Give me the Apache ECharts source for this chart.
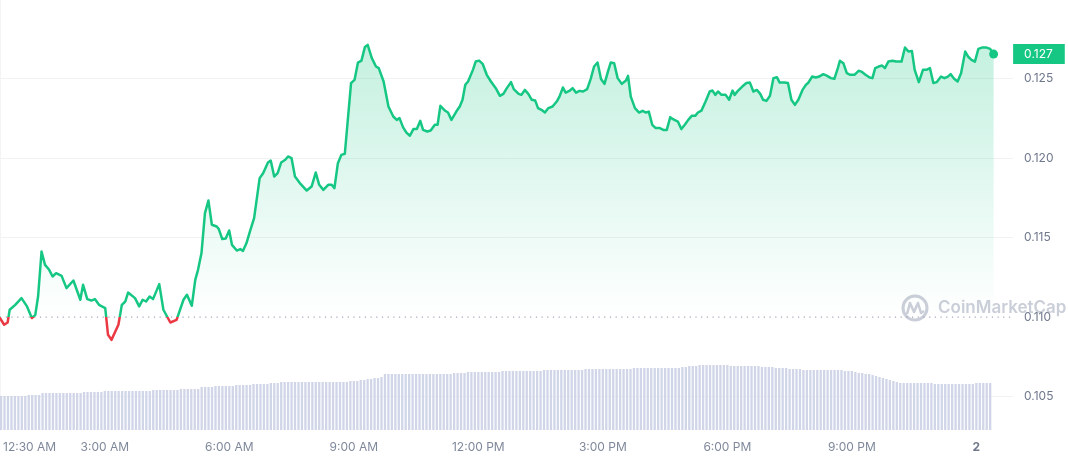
<!DOCTYPE html>
<html><head><meta charset="utf-8">
<script src="https://cdn.jsdelivr.net/npm/echarts@6/dist/echarts.min.js"></script>
<style>html,body{margin:0;padding:0;background:#fff}#c{width:1068px;height:460px}</style>
</head><body><div id="c"></div>
<script>
// minutes counted from 12:30 AM
const axisSpanMinutes = 1463;

const priceMinutes = [
0,6,11,14,22,31,39,46,51,55,60,65,71,76,81,89,91,96,106,116,120,126,132,137,143,152,156,161,171,176,181,185,195,201,206,211,216,221,230,236,246,255,265,270,277,282,
286,291,296,301,306,313,316,321,326,331,335,342,347,351,356,361,367,375,380,387,391,396,401,406,412,416,421,426,433,443,450,456,461,467,474,479,483,488,493,498,507,512,517,522,527,531,537,543,547,554,561,
563,568,573,577,582,587,592,597,602,607,611,617,622,628,632,636,643,647,652,659,664,668,672,676,683,687,692,697,703,709,716,722,727,732,738,742,749,753,758,763,768,773,777,782,787,792,798,804,808,813,817,823,827,832,837,842,848,853,858,
863,868,873,878,882,887,892,898,904,907,911,917,923,928,933,937,942,947,953,958,963,968,972,979,984,989,994,999,1004,1008,1013,1019,1025,1029,1033,1037,1042,1048,1053,1058,1061,1066,1072,1078,1083,1088,1093,1098,1102,1107,1112,1117,1122,1126,1133,1138,1143,1148,
1153,1159,1164,1167,1173,1178,1183,1189,1194,1200,1205,1210,1213,1218,1223,1228,1234,1240,1244,1250,1256,1260,1264,1269,1274,1278,1283,1289,1294,1302,1307,1312,1317,1321,1327,1333,1338,1343,1348,1353,1359,1364,1369,1373,1378,1383,1388,1394,1398,1403,1408,1413,1418,1425,1430,1435
];
const priceValues = [
0.10994,0.10952,0.10966,0.11046,0.11077,0.11119,0.11067,0.10994,0.11014,0.11129,0.11412,0.11328,0.11297,0.11255,0.11276,0.11259,0.11251,0.11182,0.1123,0.11109,0.11203,0.11113,0.11104,0.11113,0.11077,0.11057,0.10889,0.10857,0.10952,0.11077,0.11098,0.11154,0.11119,0.11067,0.11109,0.11098,0.11129,0.11113,0.11207,0.11046,0.10966,0.10983,0.11109,0.1114,0.11071,0.11234,
0.11297,0.11402,0.11653,0.11732,0.1158,0.11569,0.11553,0.1149,0.11494,0.11544,0.11454,0.11418,0.11427,0.11416,0.11465,0.11538,0.11622,0.11873,0.11904,0.11971,0.11983,0.11883,0.11904,0.11971,0.11988,0.12009,0.11999,0.11883,0.11842,0.11795,0.1182,0.11908,0.11831,0.11799,0.11831,0.11831,0.1181,0.11967,0.12019,0.12026,0.1247,0.1249,0.12599,0.12611,0.12696,0.1271,0.12627,0.12574,0.12564,0.1248,0.12323,
0.12313,0.1226,0.12239,0.1225,0.12193,0.12159,0.12139,0.12181,0.12181,0.12233,0.12176,0.12166,0.12172,0.12208,0.12208,0.12327,0.12296,0.12285,0.12239,0.12291,0.12323,0.12365,0.12459,0.1248,0.12553,0.12605,0.12611,0.12591,0.12522,0.1248,0.12438,0.1239,0.12402,0.12438,0.12476,0.12432,0.12402,0.12396,0.12427,0.12402,0.12365,0.1236,0.12313,0.12302,0.12285,0.12313,0.12323,0.12354,0.12385,0.12442,0.1241,0.12423,0.12438,0.1241,0.12421,0.12417,0.12432,0.12495,0.12574,
0.12599,0.12495,0.12465,0.12542,0.12599,0.12595,0.12501,0.12465,0.12486,0.12515,0.12385,0.12313,0.12285,0.12296,0.12285,0.12291,0.12208,0.12187,0.12187,0.12176,0.12176,0.12256,0.12243,0.12228,0.12181,0.12208,0.12239,0.12264,0.12264,0.12285,0.12297,0.12354,0.12417,0.12423,0.12396,0.12417,0.12396,0.12396,0.12365,0.12423,0.12396,0.12423,0.12448,0.1247,0.12473,0.12417,0.12427,0.12402,0.12365,0.12358,0.1239,0.12501,0.12507,0.12473,0.12473,0.1247,0.12365,0.12333,
0.12365,0.12427,0.12459,0.1247,0.12511,0.12505,0.12511,0.12526,0.12517,0.12501,0.12497,0.12564,0.1261,0.12595,0.12532,0.12522,0.12522,0.12547,0.12542,0.12522,0.12505,0.12501,0.12564,0.12574,0.1258,0.12564,0.12605,0.1261,0.12605,0.12605,0.12693,0.12668,0.12672,0.12553,0.12476,0.12553,0.12553,0.12564,0.1247,0.12476,0.12511,0.12501,0.12511,0.12526,0.12497,0.1248,0.12532,0.12668,0.12637,0.12616,0.12605,0.12685,0.12693,0.12693,0.12685,0.12652
];
const volumeStepMinutes = 5;
const volumeValues = [
34,34,34,34,34,34,34,34,35,35,35,35,
37,37,37,37,37,37,37,37,37,37,37,37,
38,38,38,38,38,38,39,39,39,39,39,39,39,39,39,39,39,39,39,39,40,40,40,
40,40,40,40,40,41,41,41,41,41,41,
43,43,43,43,44,44,44,44,44,44,
45,45,45,45,45,46,46,46,46,46,47,47,47,
48,48,48,48,48,48,48,48,48,48,48,48,48,48,48,48,48,48,48,48,
49,49,49,50,50,51,51,52,52,53,
56,56,56,56,56,56,56,56,56,56,56,56,56,56,56,56,56,56,56,56,57,57,57,57,
58,58,58,58,58,58,58,58,58,58,
59,59,59,59,59,59,59,59,59,59,59,59,60,60,60,60,60,60,60,60,60,60,60,60,
61,61,61,61,61,61,61,61,61,61,61,61,61,61,62,62,62,62,62,62,62,62,62,62,62,62,62,62,
63,63,64,64,64,65,65,65,65,65,65,65,65,65,64,64,64,64,64,64,64,64,64,
63,63,63,63,62,62,62,62,61,61,61,61,
60,60,60,60,60,60,60,60,60,60,60,60,59,59,59,
58,57,57,56,56,55,54,53,
52,51,50,49,48,
47,47,47,47,47,47,47,47,47,47,46,46,46,46,46,46,46,46,46,46,46,
46,47,47,47,47,47
];
const xTickMinutes = [0,150,330,510,690,870,1050,1230,1410];
const xTickLabels = ['12:30 AM','3:00 AM','6:00 AM','9:00 AM','12:00 PM','3:00 PM','6:00 PM','9:00 PM','2'];
const yTickValues = [0.105,0.110,0.115,0.120,0.125];
const openPrice = 0.110;
const yMin = 0.102908, yMax = 0.129918;

const GREEN = '#16c784', RED = '#ea3943';
const FONT = 'Inter, "Noto Sans", sans-serif';

const priceData = priceMinutes.map((m, i) => [m, priceValues[i]]);
const volumeData = volumeValues.map((v, i) => [i * volumeStepMinutes, v]);
const last = priceData[priceData.length - 1];
const openLine = [[0, openPrice], [axisSpanMinutes, openPrice]];

const chart = echarts.init(document.getElementById('c'), null, {renderer: 'canvas'});
chart.setOption({
  animation: false,
  backgroundColor: '#ffffff',
  textStyle: {fontFamily: FONT},
  grid: [
    {left: 0, right: 55, top: 0, bottom: 30},
    {left: 0, right: 55, top: 330, bottom: 30}
  ],
  xAxis: [
    {type: 'value', gridIndex: 0, min: 0, max: axisSpanMinutes, show: false},
    {type: 'value', gridIndex: 1, min: 0, max: axisSpanMinutes, interval: 30,
     axisLine: {show: false}, axisTick: {show: false}, splitLine: {show: false},
     axisLabel: {
       showMinLabel: true, showMaxLabel: false, hideOverlap: false,
       margin: 11, fontSize: 12, color: '#7f889b', fontFamily: FONT,
       formatter: function (v) {
         const i = xTickMinutes.indexOf(Math.round(v));
         if (i < 0) return '';
         if (i === 0) return '{first|' + xTickLabels[i] + '}';
         if (xTickLabels[i] === '2') return '{day|2}';
         return xTickLabels[i];
       },
       rich: {
         first: {padding: [0, 0, 0, 57], fontSize: 12, color: '#7f889b', fontFamily: FONT},
         day: {fontWeight: 'bold', fontSize: 12, color: '#6f788c', fontFamily: FONT}
       }
     }}
  ],
  yAxis: [
    {type: 'value', gridIndex: 0, position: 'right', min: yMin, max: yMax,
     axisLine: {show: true, lineStyle: {color: '#f3f4f6'}},
     axisTick: {show: false, customValues: yTickValues.filter(v => v !== openPrice)},
     splitLine: {show: true, lineStyle: {color: '#f1f2f4', width: 1}},
     axisLabel: {
       customValues: yTickValues, showMinLabel: true, showMaxLabel: true,
       margin: 11, fontSize: 12, color: '#6f788c', fontFamily: FONT,
       formatter: v => v.toFixed(3)
     }},
    {type: 'value', gridIndex: 1, min: 0, max: 100, show: false}
  ],
  series: [
    {
      id: 'open', type: 'line', xAxisIndex: 0, yAxisIndex: 0, data: openLine,
      showSymbol: false, symbol: 'none', silent: true, z: 3,
      lineStyle: {color: '#a3a9b9', width: 1.2, type: [1.2, 4.5]}
    },
    {
      id: 'price', type: 'line', name: 'Price', xAxisIndex: 0, yAxisIndex: 0, data: priceData,
      showSymbol: false, symbol: 'none', z: 5,
      lineStyle: {width: 2.5, cap: 'round', join: 'round', color: GREEN},
      areaStyle: {origin: openPrice, color: 'rgba(22,199,132,0.15)'}
    },
    {
      id: 'last', type: 'scatter', name: 'Last', xAxisIndex: 0, yAxisIndex: 0, data: [last],
      symbolSize: 9, itemStyle: {color: GREEN, opacity: 1}, z: 6, silent: true,
      label: {show: true, position: 'right', distance: 15,
              formatter: p => p.value[1].toFixed(3),
              backgroundColor: GREEN, color: '#ffffff', fontSize: 12, fontFamily: FONT,
              padding: [4, 12, 4, 11]}
    },
    {
      id: 'vol', type: 'bar', name: 'Volume', xAxisIndex: 1, yAxisIndex: 1, data: volumeData,
      barWidth: 2.3, itemStyle: {color: '#d0d5e8'}, silent: true
    }
  ],
  graphic: [
    {type: 'circle', shape: {cx: 915, cy: 308, r: 12}, style: {fill: 'none', stroke: 'rgba(150,157,177,0.5)', lineWidth: 3}, z: 100, silent: true},
    {type: 'polyline', shape: {points: [[907, 314], [910, 303], [914, 312], [918, 303], [921, 313], [924, 311]]}, style: {fill: 'none', stroke: 'rgba(150,157,177,0.5)', lineWidth: 2.5, lineJoin: 'round'}, z: 100, silent: true},
    {type: 'text', x: 938, y: 308, style: {text: 'CoinMarketCap', font: '600 17px ' + FONT, fill: 'rgba(150,157,177,0.5)', verticalAlign: 'middle'}, z: 100, silent: true}
  ]
});

// colour the price line red below the open price and fade the area toward it
const openY = chart.convertToPixel({yAxisIndex: 0}, openPrice);
const topY = chart.convertToPixel({yAxisIndex: 0}, Math.max.apply(null, priceValues));
const H = 460, k = openY / H;
chart.setOption({
  series: [{
    id: 'price',
    lineStyle: {color: new echarts.graphic.LinearGradient(0, 0, 0, H, [
      {offset: 0, color: GREEN}, {offset: k, color: GREEN},
      {offset: k, color: RED}, {offset: 1, color: RED}], true)},
    areaStyle: {origin: openPrice, color: new echarts.graphic.LinearGradient(0, topY, 0, openY, [
      {offset: 0, color: 'rgba(22,199,132,0.36)'},
      {offset: 1, color: 'rgba(22,199,132,0)'}], true)}
  }]
});
</script></body></html>
